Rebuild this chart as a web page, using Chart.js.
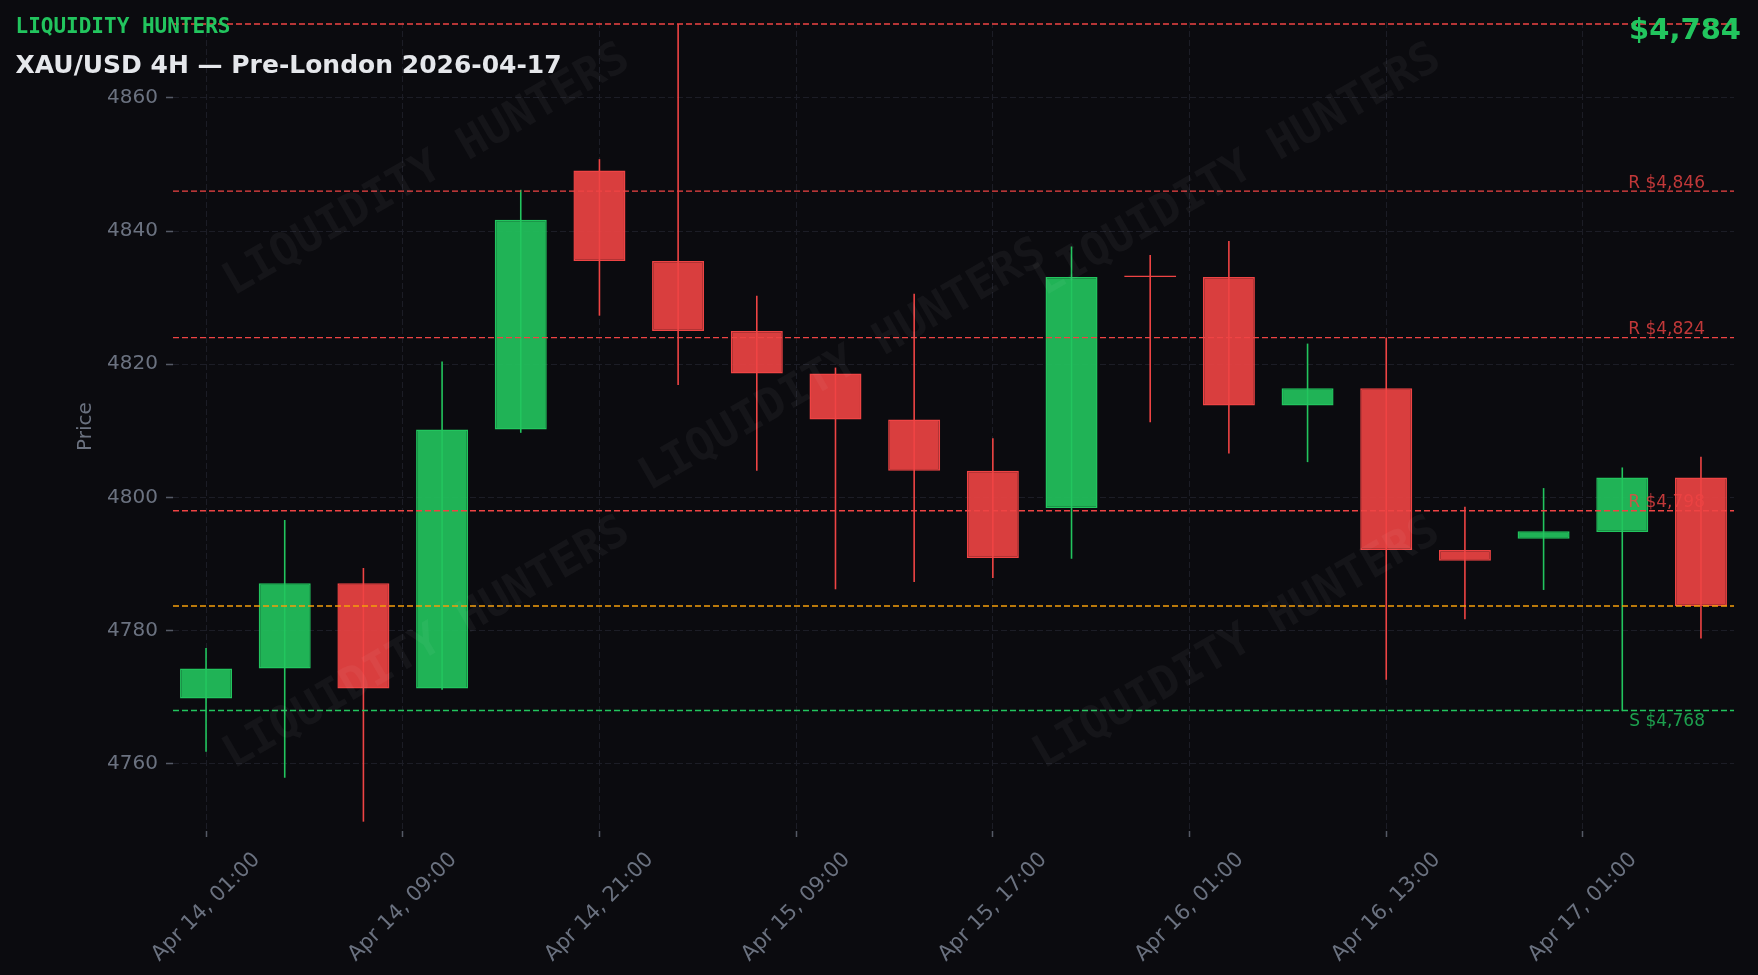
<!DOCTYPE html>
<html>
<head>
<meta charset="utf-8">
<title>XAU/USD 4H — Pre-London 2026-04-17</title>
<script src="https://cdn.jsdelivr.net/npm/chart.js@4.4.1/dist/chart.umd.min.js"></script>
<style>
  html, body { margin: 0; padding: 0; background: #0b0b0f; }
  canvas { display: block; }
</style>
</head>
<body>
<canvas id="chart" width="1758" height="975"></canvas>
<script>
// 4H candles, index 0 = Apr 14 01:00
const candleIndex = [0, 1, 2, 3, 4, 5, 6, 7, 8, 9, 10, 11, 12, 13, 14, 15, 16, 17, 18, 19];
const openPrices  = [4769.8, 4774.3, 4787.1, 4771.3, 4810.2, 4849.1, 4835.5, 4825.0, 4818.6, 4811.7,
                     4804.0, 4798.4, 4833.1, 4833.1, 4813.8, 4816.4, 4792.1, 4793.8, 4794.8, 4803.0];
const highPrices  = [4777.4, 4796.6, 4789.4, 4820.4, 4846.2, 4850.8, 4871.1, 4830.3, 4819.5, 4830.6,
                     4808.9, 4837.7, 4836.4, 4838.5, 4823.1, 4824.0, 4798.6, 4801.4, 4804.5, 4806.1];
const lowPrices   = [4761.8, 4757.9, 4751.3, 4771.1, 4809.7, 4827.3, 4816.9, 4804.0, 4786.2, 4787.3,
                     4787.9, 4790.8, 4811.3, 4806.6, 4805.3, 4772.6, 4781.7, 4786.1, 4767.9, 4778.8];
const closePrices = [4774.3, 4787.1, 4771.3, 4810.2, 4841.7, 4835.5, 4825.0, 4818.6, 4811.7, 4804.0,
                     4790.9, 4833.1, 4833.1, 4813.8, 4816.4, 4792.1, 4790.5, 4794.9, 4803.0, 4783.7];

// axis ticks
const xTickPos = [0, 2.5, 5, 7.5, 10, 12.5, 15, 17.5];
const xTickLabels = ['Apr 14, 01:00', 'Apr 14, 09:00', 'Apr 14, 21:00', 'Apr 15, 09:00',
                     'Apr 15, 17:00', 'Apr 16, 01:00', 'Apr 16, 13:00', 'Apr 17, 01:00'];
const yTicks = [4760, 4780, 4800, 4820, 4840, 4860];

// levels
const topLevel = 4871.1;            // unlabelled line at the top
const resistanceLevels = [4846, 4824, 4798];
const supportLevels = [4768];

const xMin = -0.42, xMax = 19.42;
const yMin = 4749.9, yMax = 4871.4;

const GREEN = '#22c55e';
const RED = '#ef4444';
const ORANGE = '#f59e0b';
const MUTED = '#6b7280';

const lastClose = closePrices[closePrices.length - 1];
const isUp = closePrices.map((c, i) => c > openPrices[i]);
const bodyFill = isUp.map(u => u ? 'rgba(34,197,94,0.9)' : 'rgba(239,68,68,0.9)');
const candleColor = isUp.map(u => u ? GREEN : RED);

const fmt = v => v.toLocaleString('en-US', { maximumFractionDigits: 0 });

function levelLine(value, color) {
  return {
    type: 'line',
    data: [{ x: xMin, y: value }, { x: xMax, y: value }],
    borderColor: color,
    borderWidth: 1.4,
    borderDash: [6, 3],
    pointRadius: 0,
    order: 0
  };
}

const overlay = {
  id: 'overlay',
  afterDatasetsDraw(chart) {
    const ctx = chart.ctx;
    // watermark
    const spots = [[427, 171], [843, 366], [1238, 171], [427, 644], [1237, 644]];
    ctx.save();
    ctx.font = 'bold 45px "DejaVu Sans Mono"';
    ctx.fillStyle = 'rgba(255,255,255,0.045)';
    ctx.textAlign = 'center';
    ctx.textBaseline = 'middle';
    spots.forEach(([x, y]) => {
      ctx.save();
      ctx.translate(x, y);
      ctx.rotate(-30 * Math.PI / 180);
      ctx.fillText('LIQUIDITY HUNTERS', 0, 0);
      ctx.restore();
    });
    ctx.restore();
  },
  afterDraw(chart) {
    const ctx = chart.ctx;
    const xs = chart.scales.x, ys = chart.scales.y;
    const area = chart.chartArea;

    // level labels
    const labelX = xs.getPixelForValue(19) + 4;
    ctx.save();
    ctx.font = '17px "DejaVu Sans"';
    ctx.textAlign = 'right';
    ctx.textBaseline = 'alphabetic';
    ctx.fillStyle = 'rgba(239,68,68,0.8)';
    resistanceLevels.forEach(v => ctx.fillText('R $' + fmt(v), labelX, ys.getPixelForValue(v) - 3.5));
    ctx.fillStyle = 'rgba(34,197,94,0.8)';
    supportLevels.forEach(v => ctx.fillText('S $' + fmt(v), labelX, ys.getPixelForValue(v) + 16));
    ctx.restore();

    // x tick labels, rotated 45deg, centred under each tick
    ctx.save();
    ctx.font = '21px "DejaVu Sans"';
    ctx.fillStyle = MUTED;
    ctx.textAlign = 'center';
    ctx.textBaseline = 'middle';
    xTickPos.forEach((pos, i) => {
      const px = xs.getPixelForValue(pos);
      const w = ctx.measureText(xTickLabels[i]).width;
      const h = (w + 21) * Math.SQRT1_2;
      ctx.save();
      ctx.translate(px, area.bottom + 18 + h / 2);
      ctx.rotate(-Math.PI / 4);
      ctx.fillText(xTickLabels[i], 0, 0);
      ctx.restore();
    });
    ctx.restore();

    // header texts
    ctx.save();
    ctx.textBaseline = 'alphabetic';
    ctx.textAlign = 'left';
    ctx.font = 'bold 21px "DejaVu Sans Mono"';
    ctx.fillStyle = GREEN;
    ctx.fillText('LIQUIDITY HUNTERS', 15.5, 33);
    ctx.font = 'bold 25px "DejaVu Sans"';
    ctx.fillStyle = '#e5e7eb';
    ctx.fillText('XAU/USD 4H — Pre-London 2026-04-17', 15.5, 73.3);
    ctx.textAlign = 'right';
    ctx.font = 'bold 29px "DejaVu Sans"';
    ctx.fillStyle = GREEN;
    ctx.fillText('$' + fmt(Math.round(lastClose)), 1741, 39);
    ctx.restore();
  }
};

new Chart(document.getElementById('chart'), {
  type: 'bar',
  data: {
    datasets: [
      levelLine(topLevel, RED),
      ...resistanceLevels.map(v => levelLine(v, RED)),
      levelLine(lastClose, ORANGE),
      ...supportLevels.map(v => levelLine(v, GREEN)),
      {
        // bodies
        data: candleIndex.map(i => ({ x: i, y: [openPrices[i], closePrices[i]] })),
        backgroundColor: bodyFill,
        borderColor: candleColor,
        borderWidth: 1.5,
        borderSkipped: false,
        barThickness: 52,
        minBarLength: 1.6,
        grouped: false,
        inflateAmount: 0,
        order: 1
      },
      {
        // wicks
        data: candleIndex.map(i => ({ x: i, y: [lowPrices[i], highPrices[i]] })),
        backgroundColor: candleColor,
        borderWidth: 0,
        barThickness: 1.6,
        grouped: false,
        inflateAmount: 0,
        order: 2
      }
    ]
  },
  options: {
    responsive: false,
    animation: false,
    events: [],
    layout: { padding: { top: 22, right: 24, left: 0, bottom: 0 } },
    plugins: {
      legend: { display: false },
      tooltip: { enabled: false }
    },
    scales: {
      x: {
        type: 'linear',
        min: xMin,
        max: xMax,
        offset: false,
        afterBuildTicks: s => { s.ticks = xTickPos.map(v => ({ value: v })); },
        afterFit: s => { s.height = 144; },
        ticks: { display: false, autoSkip: false },
        grid: {
          offset: false,
          color: '#1c1d26',
          lineWidth: 1,
          tickLength: 6,
          tickColor: '#555a66',
          tickWidth: 1.5
        },
        border: { display: false, dash: [6, 3] }
      },
      y: {
        type: 'linear',
        min: yMin,
        max: yMax,
        afterBuildTicks: s => { s.ticks = yTicks.map(v => ({ value: v })); },
        afterFit: s => { s.width = 173; },
        ticks: {
          color: MUTED,
          font: { family: 'DejaVu Sans', size: 20 },
          padding: 8,
          callback: v => String(v)
        },
        grid: {
          color: '#1c1d26',
          lineWidth: 1,
          tickLength: 7,
          tickColor: '#555a66',
          tickWidth: 1.5
        },
        border: { display: false, dash: [6, 3] },
        title: {
          display: true,
          text: 'Price',
          color: MUTED,
          font: { family: 'DejaVu Sans', size: 20 },
          padding: { top: 74, bottom: 0 }
        }
      }
    }
  },
  plugins: [overlay]
});
</script>
</body>
</html>
